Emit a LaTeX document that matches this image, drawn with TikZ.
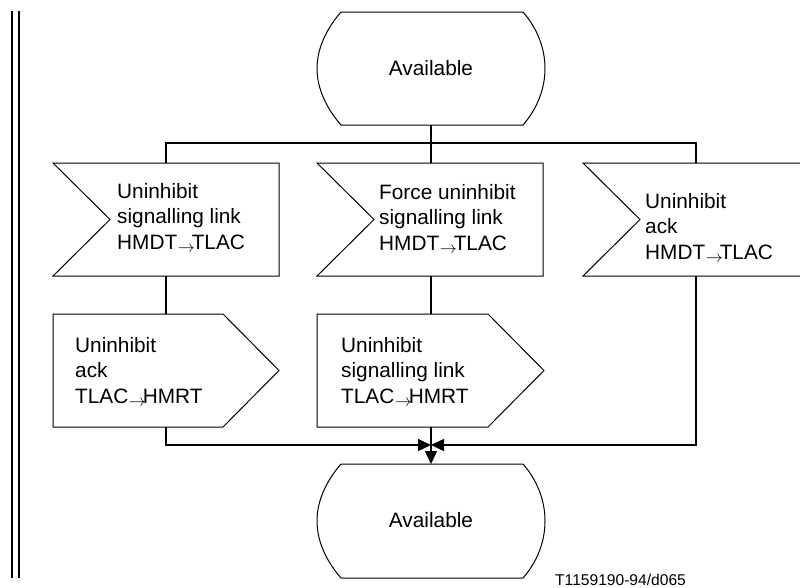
\documentclass[tikz,border=0pt]{standalone}
\usepackage{fontspec}
\setmainfont{Liberation Sans}
\usetikzlibrary{arrows.meta}
\newcommand{\rarr}{\kern0.5pt\raisebox{-3pt}{\resizebox{17pt}{!}{$\rightarrow$}}\kern-3pt}
\newcommand{\lines}[1]{\begin{tabular}[t]{@{}l@{}}#1\end{tabular}}
\begin{document}
\begin{tikzpicture}[x=1pt,y=-1pt,
  shp/.style={line width=1pt},
  conn/.style={line width=1.4pt},
  lbl/.style={anchor=base west, inner sep=0pt, font=\fontsize{20.8}{25.5}\selectfont},
  stt/.style={anchor=center, inner sep=0pt, font=\fontsize{20.8}{27}\selectfont},
  arr/.style={-{Triangle[length=13pt,width=12pt]}}]
\useasboundingbox (0,0) rectangle (800,587);
% double vertical border lines
\draw[line width=2pt] (12,11) -- (12,578);
\draw[line width=2pt] (19,11) -- (19,578);
% top state
\draw[shp] (341,12) -- (523,12) .. controls (537,28) and (545,48) .. (545,68.5)
  .. controls (545,89) and (537,109) .. (523,125) -- (341,125)
  .. controls (327,109) and (317,89) .. (317,68.5)
  .. controls (317,48) and (327,28) .. (341,12) -- cycle;
\node[stt] (av1) at (431,68) {Available};
% bottom state
\draw[shp] (341,464) -- (523,464) .. controls (537,480) and (545,500) .. (545,521)
  .. controls (545,542) and (537,562) .. (523,578) -- (341,578)
  .. controls (327,562) and (317,542) .. (317,521)
  .. controls (317,500) and (327,480) .. (341,464) -- cycle;
\node[stt] (av2) at (431,520) {Available};
% inputs
\draw[shp] (53,163) -- (279,163) -- (279,276) -- (53,276) -- (110,219.5) -- cycle;
\draw[shp] (317,163) -- (543,163) -- (543,276) -- (317,276) -- (374,219.5) -- cycle;
\draw[shp] (583,163) -- (809,163) -- (809,276) -- (583,276) -- (640,219.5) -- cycle;
% outputs
\draw[shp] (53,314) -- (223,314) -- (279,370.5) -- (223,427) -- (53,427) -- cycle;
\draw[shp] (317,314) -- (488,314) -- (544,370.5) -- (488,427) -- (317,427) -- cycle;
% texts
\node[lbl] (t1) at (117,198) {\lines{Uninhibit\\signalling link\\HMDT\rarr TLAC}};
\node[lbl] (t2) at (379,199) {\lines{Force uninhibit\\signalling link\\HMDT\rarr TLAC}};
\node[lbl] (t3) at (645,208) {\lines{Uninhibit\\ack\\HMDT\rarr TLAC}};
\node[lbl] (t4) at (75,352) {\lines{Uninhibit\\ack\\TLAC\rarr HMRT}};
\node[lbl] (t5) at (341,352) {\lines{Uninhibit\\signalling link\\TLAC\rarr HMRT}};
\node[anchor=base west, inner sep=0pt, font=\fontsize{15.6}{18}\selectfont] (code) at (555,585) {T1159190-94/d065};
% connection points
\coordinate (s1b) at (431,125);
\coordinate (bl) at (166,143);
\coordinate (br) at (696,143);
\coordinate (i1t) at (166,163);
\coordinate (i2t) at (431,163);
\coordinate (i3t) at (696,163);
\coordinate (i1b) at (166,276);
\coordinate (i2b) at (431,276);
\coordinate (i3b) at (696,276);
\coordinate (o1t) at (166,314);
\coordinate (o2t) at (431,314);
\coordinate (o1b) at (166,427);
\coordinate (o2b) at (431,427);
\coordinate (jl) at (166,445);
\coordinate (jr) at (696,445);
\coordinate (m) at (431,445);
\coordinate (s2t) at (431,464);
% connectors
\draw[conn] (s1b) -- (i2t);
\draw[conn] (i1t) -- (bl) -- (br) -- (i3t);
\draw[conn] (i1b) -- (o1t);
\draw[conn] (i2b) -- (o2t);
\draw[conn,arr] (o1b) -- (jl) -- (m);
\draw[conn,arr] (i3b) -- (jr) -- (m);
\draw[conn,arr] (o2b) -- (s2t);
\end{tikzpicture}
\end{document}
